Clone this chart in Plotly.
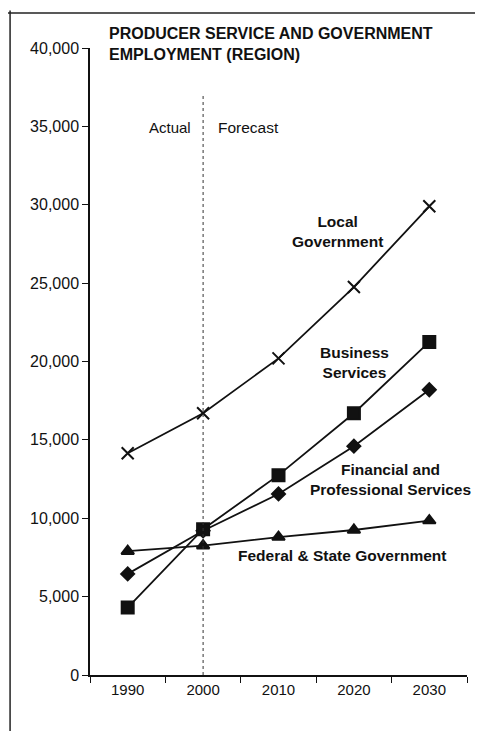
import plotly.graph_objects as go

years = ["1990", "2000", "2010", "2020", "2030"]
local_gov = [14150, 16700, 20200, 24750, 29900]
business = [4300, 9300, 12750, 16700, 21250]
financial = [6450, 9200, 11550, 14600, 18200]
fed_state = [7900, 8250, 8800, 9250, 9850]
y_ticks = [0, 5000, 10000, 15000, 20000, 25000, 30000, 35000, 40000]

FONT = "Liberation Sans, Arial, sans-serif"
INK = "#111111"

fig = go.Figure()

series = [
    (local_gov, "x-thin-open", 12, "Local Government"),
    (financial, "diamond", 10, "Financial and Professional Services"),
    (business, "square", 12, "Business Services"),
    (fed_state, "triangle-up", 11, "Federal & State Government"),
]
for vals, sym, size, name in series:
    fig.add_trace(go.Scatter(
        x=years, y=vals, name=name, mode="lines+markers",
        line=dict(color=INK, width=1.8),
        marker=dict(symbol=sym, size=size, color=INK,
                    line=dict(color=INK, width=2)),
    ))

# actual / forecast divider
fig.add_shape(type="line", xref="x", yref="y", x0=1, x1=1, y0=0, y1=37100,
              line=dict(color="#333333", width=1, dash="dot"))

# page frame (top and left edges of the scanned box)
fig.add_shape(type="line", xref="paper", yref="paper",
              x0=-0.22, x1=1.05, y0=1.0558, y1=1.0558,
              line=dict(color="#222222", width=1.5))
fig.add_shape(type="line", xref="paper", yref="paper",
              x0=-0.212, x1=-0.212, y0=1.06, y1=-0.1,
              line=dict(color="#222222", width=1.5))

labels = [
    ("Local<br>Government", 2.78, 28300),
    ("Business<br>Services", 3.01, 19950),
    ("Financial and<br>Professional Services", 3.49, 12500),
    ("Federal & State Government", 2.84, 7650),
]
for text, x, y in labels:
    fig.add_annotation(x=x, y=y, text=f"<b>{text}</b>", showarrow=False,
                       font=dict(family=FONT, size=15.5, color=INK))

fig.add_annotation(x=0.87, y=34950, text="Actual", showarrow=False,
                   xanchor="right", font=dict(family=FONT, size=15, color=INK))
fig.add_annotation(x=1.17, y=34950, text="Forecast", showarrow=False,
                   xanchor="left", font=dict(family=FONT, size=15.5, color=INK))

fig.add_annotation(xref="paper", yref="paper", x=0.045, y=1.04,
                   xanchor="left", yanchor="top", align="left", showarrow=False,
                   text="<b>PRODUCER SERVICE AND GOVERNMENT<br>EMPLOYMENT (REGION)</b>",
                   font=dict(family=FONT, size=16, color=INK))

# the page body adds an 8px margin, so the figure is offset by that amount
fig.update_layout(
    width=475, height=723,
    margin=dict(l=82, r=16, t=40, b=56),
    paper_bgcolor="white", plot_bgcolor="white",
    showlegend=False,
    font=dict(family=FONT, size=15, color=INK),
)
fig.update_xaxes(
    type="category", range=[-0.5, 4.5], tickson="boundaries",
    showline=True, linecolor=INK, linewidth=1.5,
    ticks="outside", ticklen=6, tickcolor=INK,
    showgrid=False, zeroline=False,
    tickfont=dict(family=FONT, size=15, color=INK),
)
fig.update_yaxes(
    range=[0, 40000], tickvals=y_ticks, tickformat=",",
    showline=True, linecolor=INK, linewidth=1.5,
    ticks="outside", ticklen=6, tickcolor=INK,
    showgrid=False, zeroline=False,
    tickfont=dict(family=FONT, size=16, color=INK),
)

fig.write_html("out.html")
